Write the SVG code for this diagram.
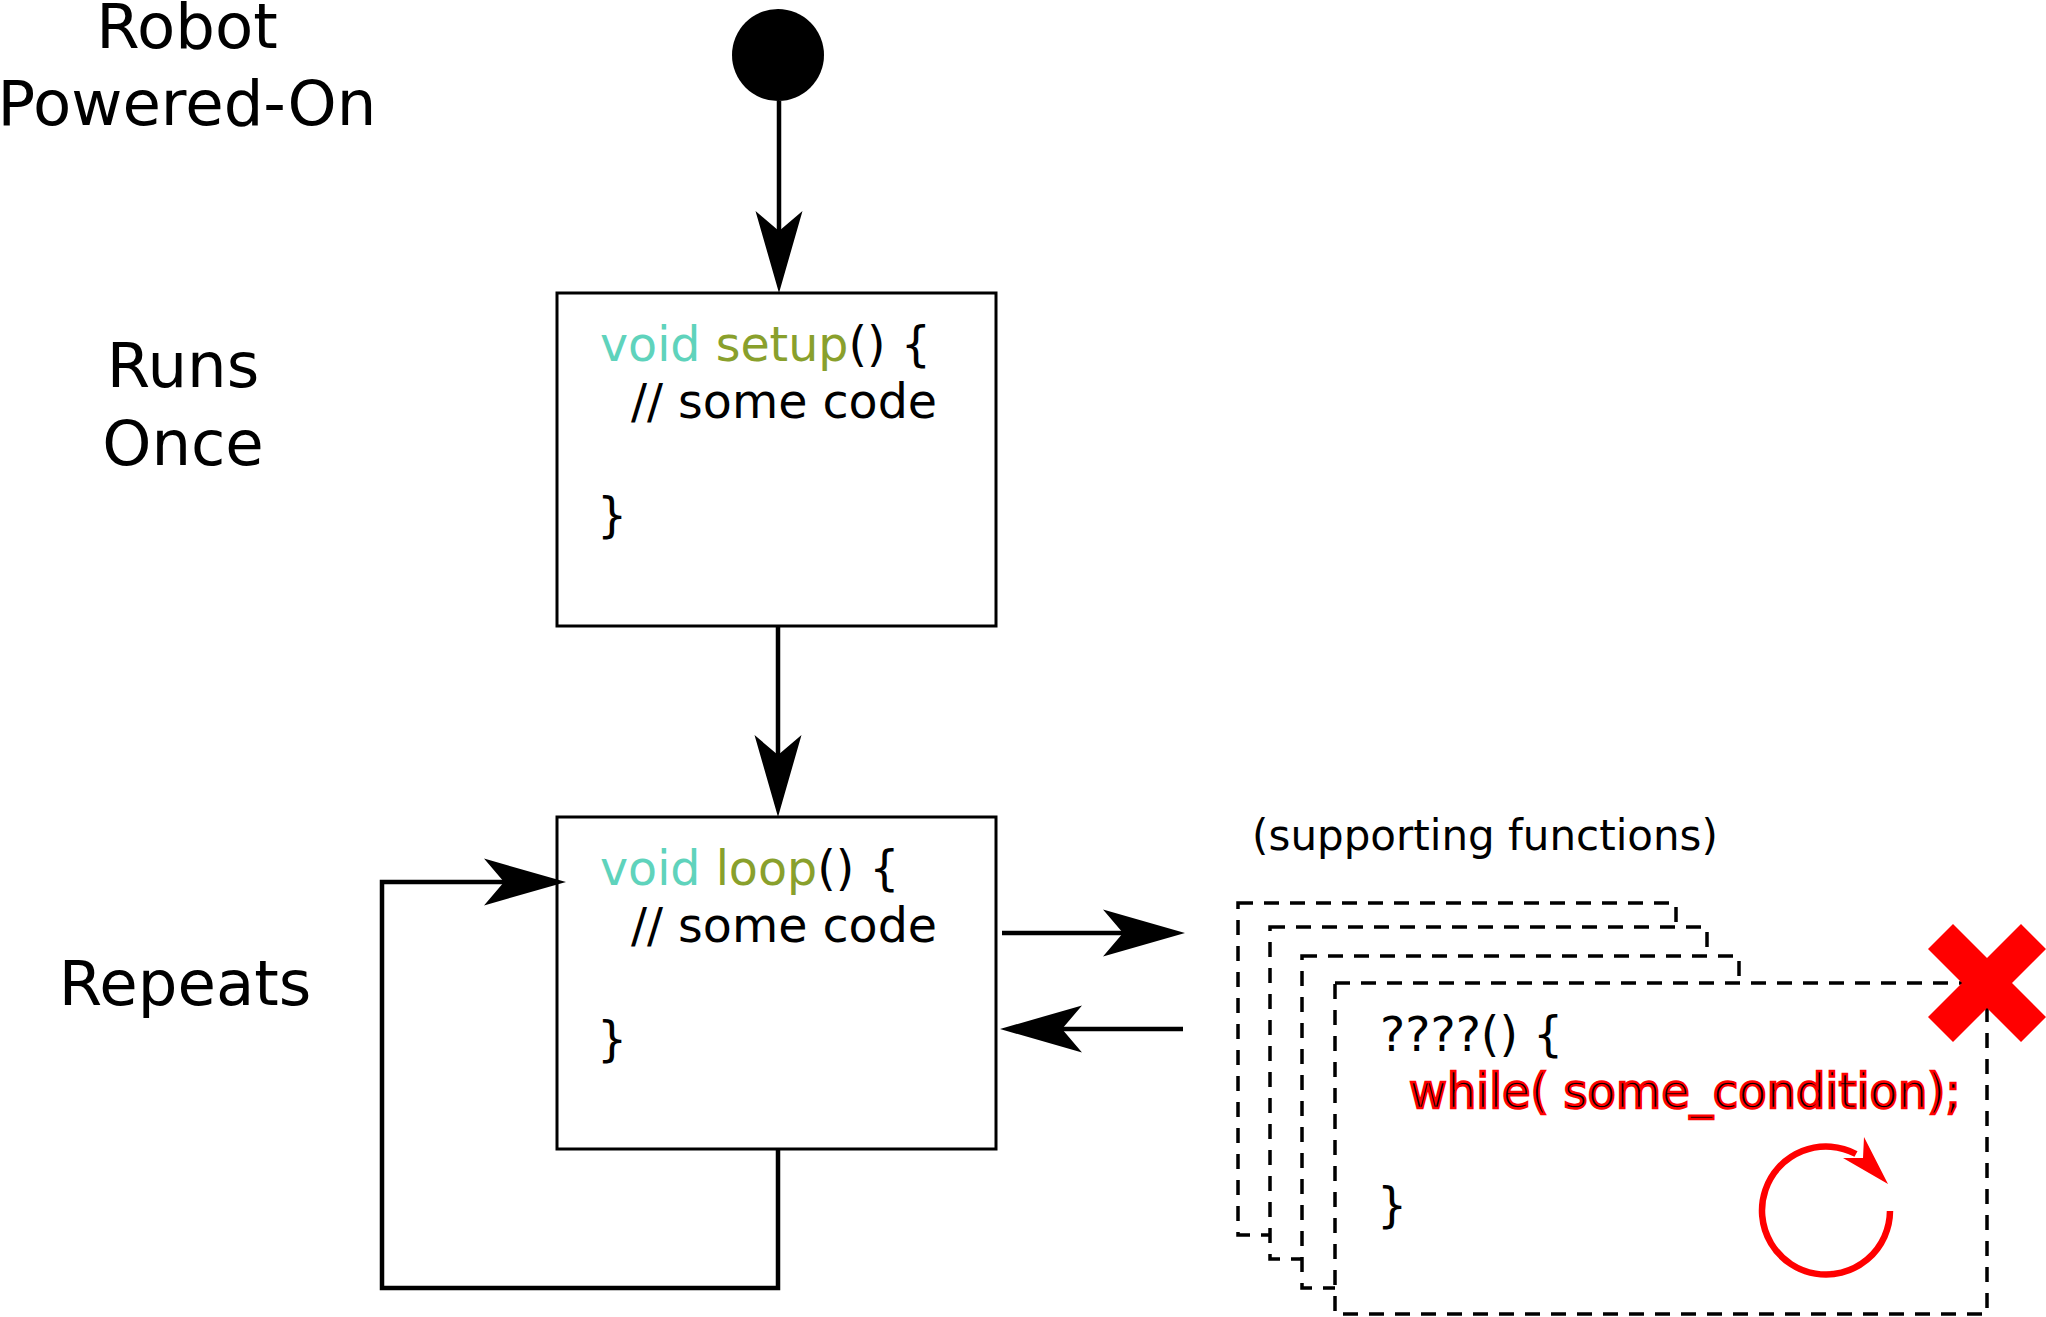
<svg xmlns="http://www.w3.org/2000/svg" width="2046" height="1317" viewBox="0 0 2046 1317">
<style>
  text { font-family: "DejaVu Sans", "Liberation Sans", sans-serif; fill: #000; }
  .label { font-size: 62.5px; text-anchor: middle; }
  .code { font-size: 47.5px; }
  .kw { fill: #5fd3bc; }
  .fn { fill: #89a02c; }
  .box { fill: #fff; stroke: #000; stroke-width: 3; }
  .dash { fill: #fff; stroke: #000; stroke-width: 3.5; stroke-dasharray: 15 11; }
  .conn { fill: none; stroke: #000; stroke-width: 4.5; }
  .warn { fill: #000; stroke: #ff0000; stroke-width: 2.4; }
</style>
<defs>
  <marker id="arrow" viewBox="-22 -25 86 50" refX="0" refY="0" markerWidth="86" markerHeight="50" markerUnits="userSpaceOnUse" orient="auto">
    <path d="M62,0 L-20,-23.5 L0,0 L-20,23.5 Z" fill="#000"/>
  </marker>
</defs>
<rect width="2046" height="1317" fill="#fff"/>

<g id="labels">
  <text class="label" x="187" y="48">Robot</text>
  <text class="label" x="187" y="125">Powered-On</text>
  <text class="label" x="183" y="387">Runs</text>
  <text class="label" x="183" y="465">Once</text>
  <text class="label" x="185" y="1005">Repeats</text>
</g>

<g id="start">
  <circle cx="778" cy="55" r="46" fill="#000"/>
</g>

<g id="setup">
  <rect class="box" x="557" y="293" width="439" height="333"/>
  <text class="code" x="600" y="361"><tspan class="kw">void</tspan> <tspan class="fn">setup</tspan>() {</text>
  <text class="code" x="631" y="418">// some code</text>
  <text class="code" x="597" y="532">}</text>
</g>

<g id="loop">
  <rect class="box" x="557" y="817" width="439" height="332"/>
  <text class="code" x="600" y="885"><tspan class="kw">void</tspan> <tspan class="fn">loop</tspan>() {</text>
  <text class="code" x="631" y="942">// some code</text>
  <text class="code" x="597" y="1056">}</text>
</g>

<g id="supporting-functions">
  <text x="1485" y="850" font-size="42" text-anchor="middle">(supporting functions)</text>
  <rect class="dash" x="1238" y="903" width="438" height="332"/>
  <rect class="dash" x="1270" y="927" width="437" height="332"/>
  <rect class="dash" x="1302" y="956" width="437" height="332"/>
  <rect class="dash" x="1335" y="983" width="652" height="331"/>
  <text class="code" x="1380" y="1051">????() {</text>
  <text class="code warn" x="1409" y="1108" font-size="46.5" textLength="552" lengthAdjust="spacingAndGlyphs">while( some_condition);</text>
  <text class="code" x="1377" y="1222">}</text>
  <path d="M1890,1211 A64,64 0 1 1 1856,1154" fill="none" stroke="#ff0000" stroke-width="6.5"/>
  <path d="M1864,1137 L1888,1184 L1843,1158 L1863,1158 Z" fill="#ff0000"/>
  <polygon points="1928,949 1953,924 1987,958 2021,924 2046,949 2012,983 2046,1017 2021,1042 1987,1008 1953,1042 1928,1017 1962,983" fill="#ff0000"/>
</g>

<g id="connectors">
  <path class="conn" d="M779,101 V231" marker-end="url(#arrow)"/>
  <path class="conn" d="M778,626 V755" marker-end="url(#arrow)"/>
  <path class="conn" d="M778,1150 V1288 H382 V882 H504" marker-end="url(#arrow)"/>
  <path class="conn" d="M1002,933 H1123" marker-end="url(#arrow)"/>
  <path class="conn" d="M1183,1029 H1062" marker-end="url(#arrow)"/>
</g>
</svg>
